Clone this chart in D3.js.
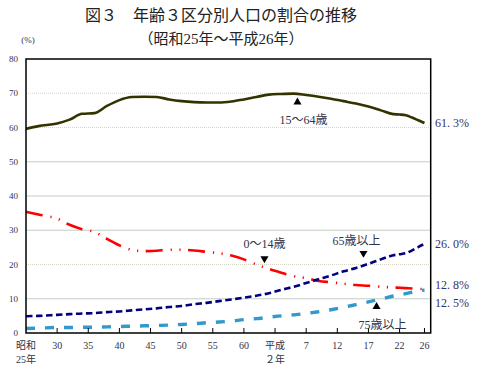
<!DOCTYPE html>
<html>
<head>
<meta charset="utf-8">
<script src="https://cdn.jsdelivr.net/npm/d3@7"></script>
<style>
  body { margin: 0; background: #fff; }
  text { font-family: "Liberation Serif", "Noto Sans CJK JP", serif; }
</style>
</head>
<body>
<svg id="chart"></svg>
<script>
// years shown on the chart (Showa 25 = 1950 ... Heisei 26 = 2014)
var years = [1950, 1952, 1955, 1957, 1959, 1961, 1963, 1965, 1967, 1969, 1971, 1973, 1975, 1977, 1979,
  1981, 1983, 1985, 1987, 1989, 1991, 1993, 1995, 1997, 1999, 2001, 2003, 2005, 2007, 2009,
  2010, 2011, 2012, 2013, 2014]

var age15to64 = [59.6, 60.4, 61.2, 62.3, 64.0, 64.2, 66.3, 68.0, 68.9, 69.0, 68.9, 68.2, 67.7, 67.4, 67.3,
  67.3, 67.6, 68.2, 68.9, 69.6, 69.8, 69.9, 69.5, 69.0, 68.4, 67.7, 67.0, 66.1, 65.0, 63.9,
  63.8, 63.6, 62.9, 62.1, 61.3]
var age0to14 = [35.4, 34.6, 33.4, 31.6, 30.3, 29.5, 27.5, 25.6, 24.3, 23.9, 24.0, 24.3, 24.3, 24.1, 23.7,
  23.3, 22.6, 21.5, 20.0, 18.7, 17.6, 16.6, 16.0, 15.2, 14.8, 14.4, 14.0, 13.8, 13.5, 13.3,
  13.2, 13.1, 13.0, 12.9, 12.8]
var age65plus = [4.9, 5.0, 5.3, 5.5, 5.7, 5.8, 6.1, 6.3, 6.6, 6.9, 7.2, 7.6, 7.9, 8.4, 8.8,
  9.3, 9.8, 10.3, 10.9, 11.6, 12.6, 13.5, 14.6, 15.7, 16.8, 18.0, 19.0, 20.2, 21.5, 22.7,
  23.0, 23.3, 24.1, 25.1, 26.0]
var age75plus = [1.3, 1.4, 1.6, 1.6, 1.7, 1.7, 1.8, 1.9, 2.0, 2.1, 2.2, 2.3, 2.5, 2.7, 3.0,
  3.2, 3.5, 3.9, 4.2, 4.6, 5.0, 5.3, 5.7, 6.2, 6.8, 7.5, 8.3, 9.1, 9.9, 10.8,
  11.1, 11.5, 11.9, 12.3, 12.5]

var tickYears = [1950, 1955, 1960, 1965, 1970, 1975, 1980, 1985, 1990, 1995, 2000, 2005, 2010, 2014]
var tickLabels = [['昭和', '25年'], ['30'], ['35'], ['40'], ['45'], ['50'], ['55'], ['60'],
  ['平成', '２年'], ['7'], ['12'], ['17'], ['22'], ['26']]
var yTicks = [0, 10, 20, 30, 40, 50, 60, 70, 80]
var endLabels = ['61. 3%', '26. 0%', '12. 8%', '12. 5%']

var W = 484, H = 371
var svg = d3.select('#chart').attr('width', W).attr('height', H)

var x = d3.scaleLinear().domain([1950, 2015]).range([26, 430.7])
var y = d3.scaleLinear().domain([0, 80]).range([333, 59])

// title
svg.append('text').attr('x', 221).attr('y', 21).attr('text-anchor', 'middle')
  .style('font-size', '16px').style('font-family', '"Noto Sans CJK JP"').attr('fill', '#222')
  .text('図３　年齢３区分別人口の割合の推移')
svg.append('text').attr('x', 221).attr('y', 44).attr('text-anchor', 'middle')
  .style('font-size', '15px').attr('fill', '#222')
  .text('（昭和25年～平成26年）')
svg.append('text').attr('x', 28).attr('y', 43).attr('text-anchor', 'middle')
  .style('font-size', '9px').attr('fill', '#333355').text('(%)')

// grid lines
var gridStyle = { 10: 'solid', 20: 'dot', 30: 'solid', 40: 'solid', 50: 'solid', 60: 'dot', 70: 'dot' }
svg.append('g').selectAll('line').data(yTicks.filter(d => d > 0 && d < 80)).join('line')
  .attr('x1', x(1950)).attr('x2', x(2015))
  .attr('y1', d => y(d)).attr('y2', d => y(d))
  .attr('stroke', d => gridStyle[d] == 'dot' ? '#d6d6c4' : '#c4cec4')
  .attr('stroke-width', 1)
  .attr('stroke-dasharray', d => gridStyle[d] == 'dot' ? '1,1' : null)

// y tick labels
svg.append('g').selectAll('text').data(yTicks).join('text')
  .attr('x', 18).attr('y', d => y(d) + 3).attr('text-anchor', 'end')
  .style('font-size', '9px').attr('fill', '#333355').text(d => d)

// series
var series = [
  { vals: age15to64, color: '#333300', width: 2.6, dash: null },
  { vals: age0to14, color: '#ff0000', width: 2.6, dash: '17,8,1.2,7.5,1.2,7.5' },
  { vals: age65plus, color: '#000080', width: 2.6, dash: '6.5,3.5' },
  { vals: age75plus, color: '#3399cc', width: 3.4, dash: '9,10' }
]
var line = d3.line().x(d => x(d[0])).y(d => y(d[1])).curve(d3.curveMonotoneX)

series.forEach(function (s) {
  svg.append('path')
    .datum(years.map((yr, i) => [yr, s.vals[i]]))
    .attr('d', line)
    .attr('fill', 'none')
    .attr('stroke', s.color)
    .attr('stroke-width', s.width)
    .attr('stroke-dasharray', s.dash)
})

// frame
svg.append('rect').attr('x', x(1950)).attr('y', y(80))
  .attr('width', x(2015) - x(1950)).attr('height', y(0) - y(80))
  .attr('fill', 'none').attr('stroke', '#000').attr('stroke-width', 1.5)

// x ticks (pointing into the plot) and labels
svg.append('g').selectAll('line').data(tickYears.slice(1)).join('line')
  .attr('x1', d => x(d)).attr('x2', d => x(d))
  .attr('y1', y(0)).attr('y2', y(0) - 5)
  .attr('stroke', '#000').attr('stroke-width', 1)

tickYears.forEach(function (yr, i) {
  tickLabels[i].forEach(function (t, j) {
    svg.append('text').attr('x', x(yr)).attr('y', 349 + j * 14)
      .attr('text-anchor', 'middle').style('font-size', '10px').attr('fill', '#333344')
      .text(t)
  })
})

// end values on the right
var lastIdx = years.length - 1
var endVals = [age15to64[lastIdx], age65plus[lastIdx], age0to14[lastIdx], age75plus[lastIdx]]
var endY = [y(endVals[0]), y(endVals[1]), y(endVals[2]) - 4, y(endVals[3]) + 13]
endLabels.forEach(function (t, i) {
  svg.append('text').attr('x', 435).attr('y', endY[i] + 4)
    .style('font-size', '12px').attr('fill', '#333366').text(t)
})

// annotations with triangles
var notes = [
  { text: '15～64歳', year: 1993.6, val: 67.4, dir: 'up', dx: 6, dy: 22 },
  { text: '0～14歳', year: 1988.3, val: 21.7, dir: 'down', dx: 0, dy: -11 },
  { text: '65歳以上', year: 2004.2, val: 23.3, dir: 'down', dx: -7, dy: -8 },
  { text: '75歳以上', year: 2006.3, val: 7.7, dir: 'up', dx: 6, dy: 22 }
]
notes.forEach(function (n) {
  var cx = x(n.year), cy = y(n.val)
  svg.append('path')
    .attr('d', d3.symbol().type(d3.symbolTriangle).size(28)())
    .attr('transform', 'translate(' + cx + ',' + cy + ')' + (n.dir == 'down' ? ' rotate(180)' : ''))
    .attr('fill', '#000')
  svg.append('text').attr('x', cx + n.dx).attr('y', cy + n.dy)
    .attr('text-anchor', 'middle').style('font-size', '12px').attr('fill', '#333344')
    .text(n.text)
})
</script>
</body>
</html>
